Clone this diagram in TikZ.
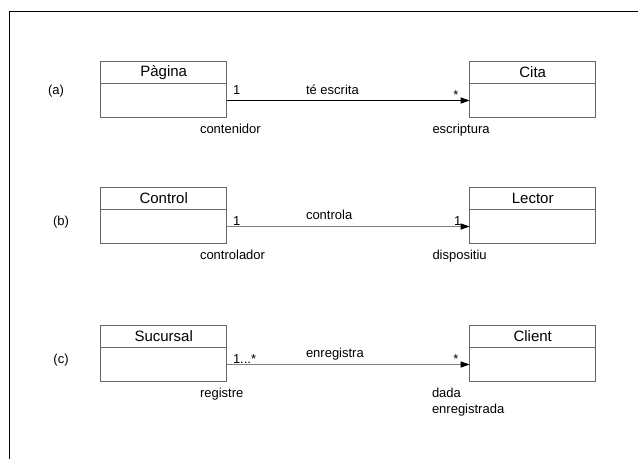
\documentclass[tikz,border=0pt]{standalone}
\usepackage{fontspec}
\setmainfont{Liberation Sans}
\usetikzlibrary{arrows.meta}
\definecolor{boxline}{HTML}{666666}
\definecolor{assocgray}{HTML}{808080}
\tikzset{
  every node/.style={font=\fontsize{13}{16}\selectfont, inner sep=0pt, outer sep=0pt},
  hdr/.style={draw=boxline, line width=1pt, minimum width=126pt, minimum height=22pt, font=\fontsize{15}{18}\selectfont},
  bdy/.style={draw=boxline, line width=1pt, minimum width=126pt, minimum height=34pt},
  assoc/.style={line width=1pt, -{Triangle[length=9pt,width=6pt,color=black]}},
  lbl/.style={anchor=base west},
  frameline/.style={line width=1pt, black}
}
\begin{document}
\begin{tikzpicture}[x=1pt, y=-1pt]
\useasboundingbox (0,0) rectangle (638,459);
\draw[frameline] (638,11.3) -- (9.3,11.3) -- (9.3,459);

% (a)
\node[hdr] (pagh) at (163.7,72.5) {Pàgina};
\node[bdy] (pag) at (163.7,100.5) {};
\node[hdr] (citah) at (532.7,72.5) {Cita};
\node[bdy] (cita) at (532.7,100.5) {};
\draw[assoc, black] (pag.east) -- (cita.west);
\node (la) at (56,91) {(a)};
\node[lbl] (a1) at (233,94) {1};
\node[lbl] (ate) at (306,94) {té escrita};
\node[anchor=base] (astar) at (456,99.5) {*};
\node[lbl] (acont) at (200,133.5) {contenidor};
\node[lbl] (aescr) at (432.5,133.5) {escriptura};

% (b)
\node[hdr] (ctrlh) at (163.7,198.5) {Control};
\node[bdy] (ctrl) at (163.7,226.5) {};
\node[hdr] (lecth) at (532.7,198.5) {Lector};
\node[bdy] (lect) at (532.7,226.5) {};
\draw[assoc, assocgray] (ctrl.east) -- (lect.west);
\node (lb) at (61,221.7) {(b)};
\node[lbl] (b1) at (233,225.5) {1};
\node[lbl] (bctl) at (306,219.5) {controla};
\node[lbl] (b1r) at (454,225.5) {1};
\node[lbl] (bcont) at (200,259.5) {controlador};
\node[lbl] (bdisp) at (432.5,259.5) {dispositiu};

% (c)
\node[hdr] (sucuh) at (163.7,336.5) {Sucursal};
\node[bdy] (sucu) at (163.7,364.5) {};
\node[hdr] (clienth) at (532.7,336.5) {Client};
\node[bdy] (client) at (532.7,364.5) {};
\draw[assoc, assocgray] (sucu.east) -- (client.west);
\node (lc) at (61,360) {(c)};
\node[lbl] (c1) at (233,363.5) {1...*};
\node[lbl] (cenr) at (306,357.5) {enregistra};
\node[anchor=base] (cstar) at (456,363.5) {*};
\node[lbl] (creg) at (200,397.5) {registre};
\node[lbl, align=left] (cdada) at (432,413.5) {dada\\enregistrada};
\end{tikzpicture}
\end{document}
